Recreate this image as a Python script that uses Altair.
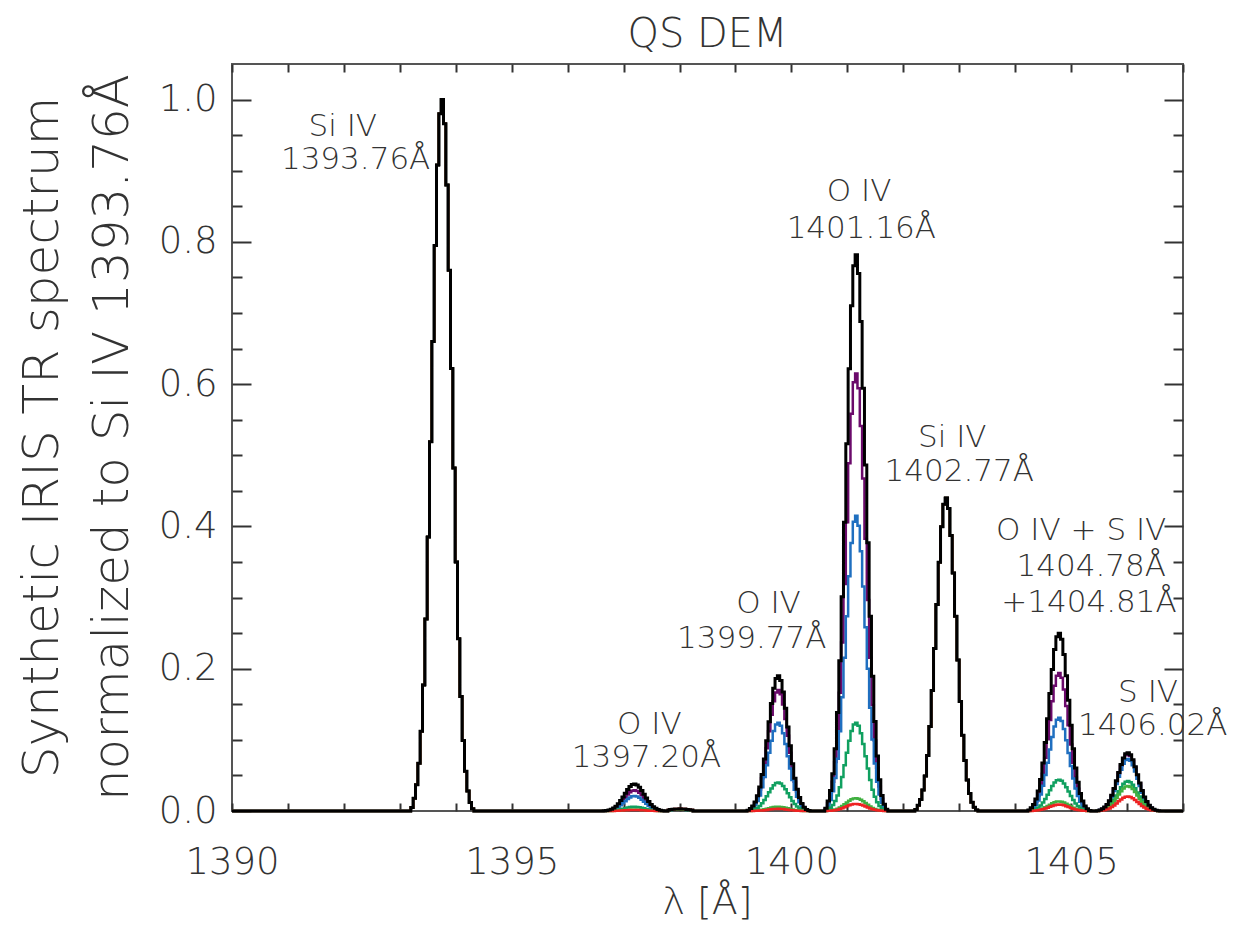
import altair as alt
import pandas as pd

FONT = "DejaVu Sans"
FW = 200
TXT = "#333333"

# ---- data ----
BIN_WIDTH = 0.0417  # Angstrom per spectral bin
# normalized line profile read from the Si IV 1393.76 peak, bins -13..+13
PROFILE = [0.005, 0.018, 0.037, 0.067, 0.112, 0.177, 0.270, 0.385, 0.519,
           0.660, 0.795, 0.908, 0.980, 1.000, 0.966, 0.880, 0.760, 0.622,
           0.482, 0.350, 0.242, 0.161, 0.099, 0.056, 0.028, 0.012, 0.003]
LINE_CENTERS = [1393.76, 1397.20, 1398.01, 1399.77, 1401.16, 1402.77, 1404.79, 1406.02]
HALF_SPAN = [13, 13, 5, 13, 13, 13, 13, 13]
PEAK_TOTAL = [1.000, 0.038, 0.003, 0.190, 0.782, 0.440, 0.250, 0.082]
PEAK_PURPLE = [1.000, 0.029, 0.002, 0.170, 0.615, 0.440, 0.194, 0.080]
PEAK_BLUE = [1.000, 0.021, 0.002, 0.124, 0.415, 0.440, 0.131, 0.073]
PEAK_GREEN = [1.000, 0.006, 0.002, 0.040, 0.124, 0.440, 0.044, 0.042]
PEAK_GREEN2 = [1.000, 0.002, 0.002, 0.006, 0.018, 0.440, 0.0135, 0.035]
PEAK_RED = [1.000, 0.0015, 0.003, 0.003, 0.010, 0.440, 0.009, 0.0205]

SERIES_NAMES = ["total", "purple", "blue", "green", "green2", "red"]
SERIES_COLORS = ["#000000", "#6b0a6b", "#1f6fc0", "#10a060", "#40b040", "#ee2222"]

X_RANGE = [1390.0, 1407.0]
Y_RANGE = [0.0, 1.05]
X_TICKS = list(range(1390, 1408))
Y_MAJOR = [0.0, 0.2, 0.4, 0.6, 0.8, 1.0]
Y_MINOR = [0.05, 0.1, 0.15, 0.25, 0.3, 0.35, 0.45, 0.5, 0.55, 0.65, 0.7, 0.75, 0.85, 0.9, 0.95]

ANN_TEXT = ["Si IV", "1393.76Å", "O IV", "1401.16Å", "Si IV", "1402.77Å",
            "O IV + S IV", "1404.78Å", "+1404.81Å", "O IV", "1399.77Å",
            "O IV", "1397.20Å", "S IV", "1406.02Å"]
ANN_X = [1391.98, 1392.21, 1401.21, 1401.25, 1402.875, 1403.0,
         1405.18, 1405.36, 1405.32, 1399.59, 1399.29,
         1397.46, 1397.41, 1406.375, 1406.46]
ANN_Y = [0.962, 0.915, 0.870, 0.818, 0.524, 0.477,
         0.394, 0.343, 0.292, 0.291, 0.242,
         0.121, 0.074, 0.166, 0.119]

# ---- build table ----
peaks = dict(zip(SERIES_NAMES, [PEAK_TOTAL, PEAK_PURPLE, PEAK_BLUE, PEAK_GREEN, PEAK_GREEN2, PEAK_RED]))
rows = []
for order, name in enumerate(SERIES_NAMES):
    pts = [(X_RANGE[0], 0.0), (X_RANGE[1], 0.0)]
    for c, h, a in zip(LINE_CENTERS, HALF_SPAN, peaks[name]):
        for k in range(-h, h + 1):
            pts.append((c + k * BIN_WIDTH, a * PROFILE[k + 13]))
        pts.append((c - (h + 1) * BIN_WIDTH, 0.0))
        pts.append((c + (h + 1) * BIN_WIDTH, 0.0))
    pts.sort()
    for x, y in pts:
        rows.append({"wl": x, "val": y, "series": name, "ord": order})
df = pd.DataFrame(rows)
df_total = df[df.series == "total"]
df_col = df[df.series != "total"]
ann = pd.DataFrame({"t": ANN_TEXT, "x": ANN_X, "y": ANN_Y})
dummy = pd.DataFrame({"wl": [1390.0], "val": [0.0]})

xs = alt.Scale(domain=X_RANGE, nice=False, zero=False)
ys = alt.Scale(domain=Y_RANGE, nice=False, zero=False)

TICK_COL = "#333333"

colored = alt.Chart(df_col).mark_line(interpolate="step", strokeWidth=2.5).encode(
    x=alt.X("wl:Q", scale=xs, axis=None),
    y=alt.Y("val:Q", scale=ys, axis=None),
    color=alt.Color("series:N", scale=alt.Scale(domain=SERIES_NAMES, range=SERIES_COLORS), legend=None),
    detail="series:N",
)

black = alt.Chart(df_total).mark_line(interpolate="step", strokeWidth=3, color="#000000").encode(
    x=alt.X("wl:Q", scale=xs, axis=alt.Axis(
        orient="bottom", values=X_TICKS, offset=-8, tickSize=8, tickWidth=2, tickColor=TICK_COL,
        domain=False, grid=False, format="d",
        labelExpr="datum.value % 5 == 0 ? datum.label : ''",
        labelFont=FONT, labelFontWeight=FW, labelFontSize=37, labelColor=TXT, labelPadding=33,
        labelFlush=False, labelOverlap=False,
        title="λ [Å]", titleFont=FONT, titleFontSize=38, titleFontWeight=FW, titleColor=TXT,
        titleX=475, titleY=99, titleBaseline="middle", titleAlign="center")),
    y=alt.Y("val:Q", scale=ys, axis=alt.Axis(
        orient="left", values=Y_MAJOR, offset=-19, tickSize=19, tickWidth=2, tickColor=TICK_COL,
        domain=False, grid=False, format=".1f",
        labelFont=FONT, labelFontWeight=FW, labelFontSize=37, labelColor=TXT, labelPadding=15,
        labelFlush=False, labelOverlap=False,
        title=["Synthetic IRIS TR spectrum", "normalized to Si IV 1393.76Å"],
        titleFont=FONT, titleFontSize=50, titleFontWeight=FW, titleColor=TXT,
        titleLineHeight=70, titleAngle=270, titleX=-209, titleY=373,
        titleAlign="center", titleBaseline="middle")),
)

minor_left = alt.Chart(dummy).mark_point(opacity=0).encode(
    x=alt.X("wl:Q", scale=xs, axis=alt.Axis(
        orient="top", values=X_TICKS, offset=-8, tickSize=8, tickWidth=2, tickColor=TICK_COL,
        domain=False, grid=False, labels=False, title=None)),
    y=alt.Y("val:Q", scale=ys, axis=alt.Axis(
        orient="left", values=Y_MINOR, offset=-10, tickSize=10, tickWidth=2, tickColor=TICK_COL,
        domain=False, grid=False, labels=False, title=None)),
)

right_major = alt.Chart(dummy).mark_point(opacity=0).encode(
    x=alt.X("wl:Q", scale=xs, axis=None),
    y=alt.Y("val:Q", scale=ys, axis=alt.Axis(
        orient="right", values=Y_MAJOR, offset=-19, tickSize=19, tickWidth=2, tickColor=TICK_COL,
        domain=False, grid=False, labels=False, title=None)),
)

right_minor = alt.Chart(dummy).mark_point(opacity=0).encode(
    x=alt.X("wl:Q", scale=xs, axis=None),
    y=alt.Y("val:Q", scale=ys, axis=alt.Axis(
        orient="right", values=Y_MINOR, offset=-10, tickSize=10, tickWidth=2, tickColor=TICK_COL,
        domain=False, grid=False, labels=False, title=None)),
)

labels = alt.Chart(ann).mark_text(font=FONT, fontWeight=FW, fontSize=31, color=TXT,
                                  align="center", baseline="middle").encode(
    x=alt.X("x:Q", scale=xs, axis=None),
    y=alt.Y("y:Q", scale=ys, axis=None),
    text="t:N",
)

chart = alt.layer(colored, black, minor_left, right_major, right_minor, labels).resolve_axis(
    x="independent", y="independent"
).properties(
    width=951, height=747,
    autosize=alt.AutoSizeParams(type="none"),
    padding={"left": 224, "top": 56, "right": 62, "bottom": 110},
    title=alt.TitleParams("QS DEM", font=FONT, fontSize=40, fontWeight=FW, color=TXT,
                          anchor="middle", offset=8),
).configure_view(stroke="#555555", strokeWidth=2)

chart.save("out.html", embed_options={"renderer": "svg", "actions": False})
